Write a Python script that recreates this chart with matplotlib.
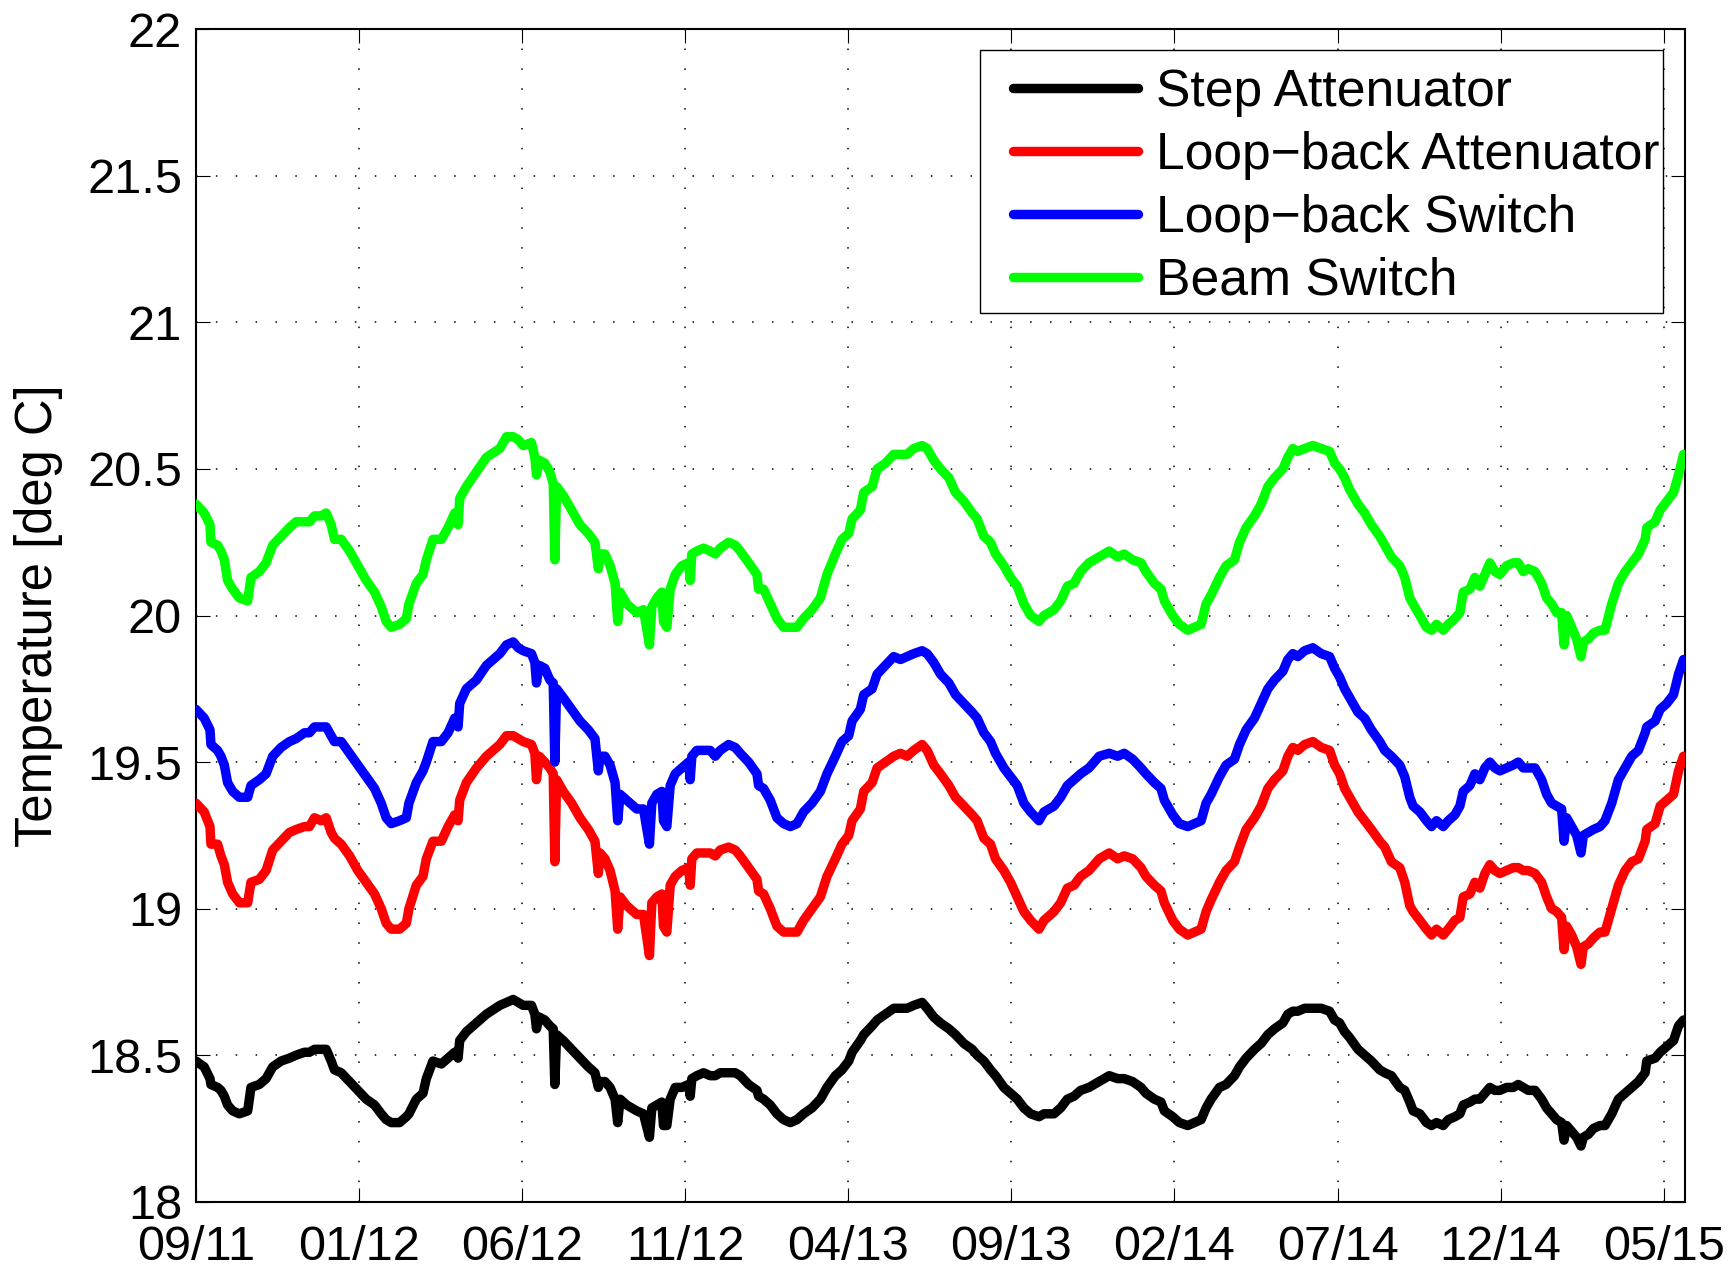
import matplotlib
matplotlib.use('Agg')
import matplotlib.pyplot as plt
from matplotlib.patches import Rectangle

plt.rcParams['font.family'] = ['Liberation Sans', 'DejaVu Sans']

# giorni dal primo campione (09/2011)
days = [
    0, 7.6, 12.9, 13.8, 19.9, 23.0, 26.1, 29.1, 33.8, 39.9,
    47.6, 50.6, 58.3, 64.5, 70.6, 78.3, 86.0, 92.1, 99.8, 104.4,
    109.0, 115.1, 119.8, 124.4, 127.4, 133.6, 141.3, 148.9, 156.6, 164.3,
    170.4, 175.0, 179.6, 187.3, 193.5, 195.9, 202.7, 208.8, 211.9, 218.0,
    225.7, 231.9, 238.0, 241.1, 242.6, 248.7, 258.0, 267.2, 279.5,
    285.6, 291.8, 296.4, 301.0, 308.6, 311.7, 313.2, 315.7, 320.9, 325.5,
    328.6, 330.1, 331.7, 337.8, 345.5, 353.2, 360.9, 367.0, 370.1, 371.6,
    376.2, 380.9, 385.5, 387.9, 390.1, 396.2, 405.4, 411.6, 417.1, 419.3,
    423.9, 428.5, 430.0, 433.1, 436.2, 440.8, 446.9, 453.1, 454.6, 456.1,
    460.7, 466.9, 473.0, 477.6, 482.2, 489.9, 496.0, 500.6, 508.3, 516.0,
    517.5, 522.1, 528.2, 534.4, 540.5, 546.7,
    552.8, 558.9, 566.6, 574.3, 580.4, 588.1, 594.2, 600.4, 603.5, 611.1,
    614.2, 621.9, 626.5, 634.2, 641.8, 648.0, 654.1, 660.2, 667.9, 672.5,
    678.6, 684.8, 692.5, 698.6, 706.3, 713.9, 718.5, 724.7, 730.8, 735.4,
    743.1, 749.2, 755.4, 761.5, 767.7, 775.4, 780.0, 789.2, 795.3, 801.5,
    807.6, 813.7, 821.4,
    830.8, 840.0, 847.7, 853.8, 861.5, 869.2, 873.8, 881.5, 887.6, 890.7,
    898.4, 904.5, 912.2, 918.3, 924.5, 929.1, 933.7, 941.4, 947.5, 955.2,
    959.8, 965.9, 973.6, 979.7, 985.9, 992.0, 999.7, 1004.3, 1008.9, 1013.5,
    1019.7, 1027.3, 1035.0, 1042.7, 1047.3, 1051.9, 1056.5, 1061.1, 1068.8, 1074.9,
    1081.1, 1088.8, 1093.4,
    1099.5, 1107.2, 1111.8, 1116.4, 1119.5, 1125.7, 1131.8, 1136.4, 1141.0, 1147.2,
    1151.8, 1157.9, 1162.5, 1165.6, 1171.7, 1176.3, 1180.9, 1185.5, 1190.1, 1194.7,
    1199.3, 1205.5, 1211.6, 1216.2, 1220.8, 1225.4, 1231.6, 1237.7, 1242.3, 1246.9,
    1251.5, 1256.1, 1258.3, 1260.7, 1265.3, 1269.9, 1273.9, 1276.1, 1280.7, 1285.3,
    1291.4, 1296.0, 1302.2, 1308.3, 1314.5, 1320.6, 1326.7, 1332.9, 1334.4, 1342.1,
    1346.7, 1352.8, 1359.0, 1363.6, 1368.2,
]

step_att = [
    18.48, 18.46, 18.42, 18.40, 18.39, 18.38, 18.36, 18.33, 18.31, 18.30,
    18.31, 18.39, 18.40, 18.42, 18.46, 18.48, 18.49, 18.50, 18.51, 18.51,
    18.52, 18.52, 18.52, 18.48, 18.45, 18.44, 18.41, 18.38, 18.35, 18.33,
    18.30, 18.28, 18.27, 18.27, 18.29, 18.30, 18.35, 18.37, 18.42, 18.48,
    18.47, 18.49, 18.51, 18.49, 18.55, 18.58, 18.61, 18.64, 18.67,
    18.68, 18.69, 18.68, 18.67, 18.67, 18.64, 18.59, 18.63, 18.62, 18.60,
    18.59, 18.40, 18.57, 18.55, 18.52, 18.49, 18.46, 18.44, 18.39, 18.41,
    18.41, 18.39, 18.35, 18.27, 18.35, 18.33, 18.31, 18.30, 18.22, 18.32,
    18.33, 18.34, 18.26, 18.26, 18.35, 18.39, 18.39, 18.40, 18.36, 18.42,
    18.43, 18.44, 18.43, 18.43, 18.44, 18.44, 18.44, 18.43, 18.40, 18.38,
    18.36, 18.35, 18.33, 18.30, 18.28, 18.27,
    18.28, 18.30, 18.32, 18.35, 18.39, 18.43, 18.45, 18.48, 18.51, 18.55,
    18.57, 18.60, 18.62, 18.64, 18.66, 18.66, 18.66, 18.67, 18.68, 18.66,
    18.63, 18.61, 18.59, 18.57, 18.54, 18.52, 18.50, 18.48, 18.45, 18.43,
    18.39, 18.37, 18.35, 18.32, 18.30, 18.29, 18.30, 18.30, 18.32, 18.35,
    18.36, 18.38, 18.39,
    18.41, 18.43, 18.42, 18.42, 18.41, 18.39, 18.37, 18.35, 18.34, 18.31,
    18.29, 18.27, 18.26, 18.27, 18.28, 18.32, 18.35, 18.39, 18.40, 18.43,
    18.46, 18.49, 18.52, 18.54, 18.57, 18.59, 18.61, 18.64, 18.65, 18.65,
    18.66, 18.66, 18.66, 18.65, 18.62, 18.61, 18.58, 18.56, 18.52, 18.50,
    18.48, 18.45, 18.44,
    18.43, 18.39, 18.38, 18.34, 18.31, 18.30, 18.27, 18.26, 18.27, 18.26,
    18.28, 18.29, 18.30, 18.33, 18.34, 18.35, 18.35, 18.37, 18.39, 18.38,
    18.38, 18.39, 18.39, 18.40, 18.39, 18.38, 18.38, 18.35, 18.32, 18.30,
    18.28, 18.27, 18.21, 18.26, 18.24, 18.22, 18.19, 18.22, 18.23, 18.25,
    18.26, 18.26, 18.30, 18.35, 18.37, 18.39, 18.41, 18.44, 18.48, 18.49,
    18.51, 18.53, 18.55, 18.60, 18.62,
]

loop_att = [
    19.36, 19.33, 19.28, 19.22, 19.22, 19.18, 19.15, 19.09, 19.05, 19.02,
    19.02, 19.09, 19.10, 19.13, 19.20, 19.23, 19.26, 19.27, 19.28, 19.28,
    19.31, 19.30, 19.31, 19.26, 19.24, 19.22, 19.18, 19.13, 19.09, 19.05,
    19.00, 18.95, 18.93, 18.93, 18.95, 19.00, 19.08, 19.11, 19.17, 19.23,
    19.23, 19.28, 19.32, 19.30, 19.37, 19.43, 19.48, 19.52, 19.56,
    19.59, 19.59, 19.58, 19.57, 19.56, 19.53, 19.44, 19.52, 19.50, 19.48,
    19.46, 19.16, 19.44, 19.40, 19.36, 19.31, 19.27, 19.23, 19.12, 19.19,
    19.17, 19.13, 19.06, 18.93, 19.04, 19.01, 18.98, 18.98, 18.84, 19.02,
    19.04, 19.05, 18.94, 18.92, 19.08, 19.11, 19.13, 19.14, 19.08, 19.17,
    19.19, 19.19, 19.19, 19.18, 19.20, 19.21, 19.20, 19.18, 19.14, 19.10,
    19.06, 19.05, 19.00, 18.94, 18.92, 18.92,
    18.92, 18.96, 19.00, 19.04, 19.11, 19.17, 19.22, 19.25, 19.30, 19.34,
    19.40, 19.43, 19.48, 19.50, 19.52, 19.53, 19.52, 19.54, 19.56, 19.54,
    19.49, 19.46, 19.42, 19.38, 19.35, 19.32, 19.30, 19.24, 19.22, 19.17,
    19.13, 19.09, 19.04, 18.99, 18.96, 18.93, 18.96, 18.99, 19.02, 19.07,
    19.08, 19.11, 19.13,
    19.17, 19.19, 19.17, 19.18, 19.17, 19.14, 19.11, 19.08, 19.06, 19.02,
    18.96, 18.93, 18.91, 18.92, 18.93, 18.99, 19.03, 19.09, 19.13, 19.16,
    19.21, 19.27, 19.31, 19.35, 19.41, 19.44, 19.47, 19.52, 19.55, 19.54,
    19.56, 19.57, 19.55, 19.54, 19.49, 19.46, 19.41, 19.38, 19.33, 19.30,
    19.27, 19.23, 19.21,
    19.16, 19.14, 19.09, 19.01, 18.99, 18.96, 18.93, 18.91, 18.93, 18.91,
    18.93, 18.96, 18.97, 19.04, 19.05, 19.09, 19.07, 19.12, 19.15, 19.13,
    19.12, 19.13, 19.14, 19.14, 19.13, 19.13, 19.12, 19.09, 19.04, 19.00,
    18.99, 18.97, 18.86, 18.94, 18.91, 18.87, 18.81, 18.87, 18.88, 18.90,
    18.92, 18.92, 19.00, 19.08, 19.13, 19.16, 19.17, 19.23, 19.27, 19.29,
    19.35, 19.37, 19.39, 19.47, 19.52,
]

loop_sw = [
    19.68, 19.65, 19.61, 19.56, 19.54, 19.52, 19.49, 19.43, 19.40, 19.38,
    19.38, 19.42, 19.44, 19.46, 19.52, 19.55, 19.57, 19.58, 19.60, 19.60,
    19.62, 19.62, 19.62, 19.59, 19.57, 19.57, 19.53, 19.49, 19.45, 19.41,
    19.36, 19.31, 19.29, 19.30, 19.31, 19.36, 19.43, 19.47, 19.50, 19.57,
    19.57, 19.60, 19.65, 19.62, 19.70, 19.75, 19.78, 19.83, 19.87,
    19.90, 19.91, 19.89, 19.88, 19.87, 19.84, 19.77, 19.83, 19.82, 19.78,
    19.77, 19.50, 19.75, 19.72, 19.68, 19.64, 19.61, 19.58, 19.47, 19.52,
    19.52, 19.49, 19.43, 19.30, 19.39, 19.37, 19.34, 19.34, 19.22, 19.36,
    19.39, 19.40, 19.30, 19.28, 19.42, 19.46, 19.48, 19.50, 19.44, 19.52,
    19.54, 19.54, 19.54, 19.52, 19.54, 19.56, 19.55, 19.53, 19.50, 19.46,
    19.42, 19.41, 19.37, 19.31, 19.29, 19.28,
    19.29, 19.33, 19.36, 19.40, 19.46, 19.52, 19.57, 19.59, 19.64, 19.68,
    19.73, 19.75, 19.80, 19.83, 19.86, 19.85, 19.86, 19.87, 19.88, 19.87,
    19.84, 19.80, 19.77, 19.73, 19.70, 19.67, 19.65, 19.60, 19.57, 19.53,
    19.48, 19.45, 19.42, 19.36, 19.33, 19.30, 19.33, 19.35, 19.38, 19.42,
    19.44, 19.46, 19.48,
    19.52, 19.53, 19.52, 19.53, 19.51, 19.48, 19.46, 19.43, 19.41, 19.37,
    19.32, 19.29, 19.28, 19.29, 19.30, 19.36, 19.39, 19.45, 19.49, 19.51,
    19.56, 19.61, 19.65, 19.70, 19.75, 19.78, 19.81, 19.85, 19.87, 19.86,
    19.88, 19.89, 19.87, 19.86, 19.82, 19.79, 19.75, 19.72, 19.67, 19.65,
    19.61, 19.57, 19.54,
    19.52, 19.49, 19.45, 19.38, 19.35, 19.33, 19.30, 19.28, 19.30, 19.28,
    19.30, 19.32, 19.35, 19.40, 19.42, 19.46, 19.44, 19.48, 19.50, 19.48,
    19.47, 19.48, 19.49, 19.50, 19.48, 19.48, 19.48, 19.44, 19.39, 19.36,
    19.35, 19.34, 19.23, 19.31, 19.28, 19.25, 19.19, 19.25, 19.26, 19.27,
    19.28, 19.30, 19.36, 19.44, 19.48, 19.52, 19.54, 19.60, 19.62, 19.64,
    19.68, 19.70, 19.73, 19.80, 19.85,
]

beam_sw = [
    20.38, 20.35, 20.31, 20.25, 20.24, 20.22, 20.19, 20.12, 20.09, 20.06,
    20.05, 20.13, 20.15, 20.18, 20.24, 20.27, 20.30, 20.32, 20.32, 20.32,
    20.34, 20.34, 20.35, 20.31, 20.26, 20.26, 20.22, 20.17, 20.12, 20.08,
    20.03, 19.98, 19.96, 19.97, 19.99, 20.04, 20.11, 20.14, 20.19, 20.26,
    20.26, 20.30, 20.35, 20.31, 20.40, 20.44, 20.49, 20.54, 20.57,
    20.61, 20.61, 20.60, 20.58, 20.59, 20.54, 20.48, 20.53, 20.52, 20.49,
    20.45, 20.19, 20.44, 20.41, 20.36, 20.31, 20.28, 20.25, 20.16, 20.21,
    20.21, 20.17, 20.11, 19.98, 20.08, 20.04, 20.01, 20.02, 19.90, 20.03,
    20.06, 20.08, 19.98, 19.96, 20.09, 20.14, 20.17, 20.18, 20.12, 20.21,
    20.22, 20.23, 20.22, 20.21, 20.23, 20.25, 20.24, 20.22, 20.18, 20.14,
    20.09, 20.09, 20.04, 19.99, 19.96, 19.96,
    19.96, 19.99, 20.02, 20.06, 20.14, 20.21, 20.26, 20.28, 20.33, 20.36,
    20.42, 20.44, 20.50, 20.52, 20.55, 20.55, 20.55, 20.57, 20.58, 20.57,
    20.53, 20.50, 20.47, 20.42, 20.39, 20.35, 20.33, 20.27, 20.25, 20.21,
    20.17, 20.13, 20.10, 20.04, 20.00, 19.98, 20.00, 20.02, 20.05, 20.10,
    20.11, 20.15, 20.18,
    20.20, 20.22, 20.20, 20.21, 20.19, 20.18, 20.15, 20.11, 20.09, 20.05,
    20.00, 19.97, 19.95, 19.96, 19.97, 20.04, 20.07, 20.13, 20.17, 20.19,
    20.25, 20.30, 20.34, 20.38, 20.44, 20.47, 20.50, 20.54, 20.57, 20.56,
    20.57, 20.58, 20.57, 20.56, 20.52, 20.50, 20.47, 20.43, 20.38, 20.35,
    20.31, 20.27, 20.24,
    20.20, 20.17, 20.13, 20.06, 20.04, 20.00, 19.96, 19.95, 19.97, 19.95,
    19.97, 19.99, 20.01, 20.08, 20.09, 20.13, 20.10, 20.14, 20.18, 20.15,
    20.14, 20.17, 20.18, 20.18, 20.15, 20.16, 20.15, 20.11, 20.06, 20.04,
    20.01, 20.01, 19.90, 20.00, 19.96, 19.92, 19.86, 19.91, 19.92, 19.94,
    19.95, 19.95, 20.04, 20.11, 20.15, 20.18, 20.21, 20.26, 20.30, 20.32,
    20.36, 20.39, 20.42, 20.48, 20.55,
]

nomi = ['Step Attenuator', 'Loop\u2212back Attenuator', 'Loop\u2212back Switch', 'Beam Switch']
colori = ['black', 'red', 'blue', (0, 1, 0)]
tick_giorni = [0, 150, 300, 450, 600, 750, 900, 1050, 1200, 1350]
tick_etichette = ['09/11', '01/12', '06/12', '11/12', '04/13',
                  '09/13', '02/14', '07/14', '12/14', '05/15']
tick_y = [18, 18.5, 19, 19.5, 20, 20.5, 21, 21.5, 22]

fig = plt.figure(figsize=(17.34, 12.71), dpi=100)
ax = fig.add_axes([0.1130, 0.0545, 0.8587, 0.9224])

for serie, nome, colore in zip([step_att, loop_att, loop_sw, beam_sw], nomi, colori):
    ax.plot(days, serie, color=colore, lw=6.8, label=nome, zorder=3,
            solid_joinstyle='round', solid_capstyle='round')

ax.set_xlim(0, 1369.5)
ax.set_ylim(18, 22)
ax.set_xticks(tick_giorni)
ax.set_xticklabels(tick_etichette)
ax.set_yticks(tick_y)
ax.set_yticklabels([f'{v:g}' for v in tick_y])

ax.tick_params(axis='both', direction='in', top=True, right=True,
               length=10, width=0.8, labelsize=35)
ax.tick_params(axis='x', pad=17)
ax.tick_params(axis='y', pad=10)
for s in ax.spines.values():
    s.set_linewidth(1.5)

ax.grid(True, color='black', linestyle=(0, (1, 12)), linewidth=1.1, zorder=0)

ax.set_ylabel('Temperature [deg C]', fontsize=36.5)
ax.yaxis.set_label_coords(-0.089, 0.5)

# riquadro della legenda stile MATLAB (margine destro stretto)
ax.add_patch(Rectangle((0.5652, 0.7537), 0.3939, 0.2069, transform=fig.transFigure,
                       facecolor='white', edgecolor='black', linewidth=1.0,
                       zorder=4, clip_on=False))
ax.legend(loc='upper left', bbox_to_anchor=(0.5840, 0.9467),
          bbox_transform=fig.transFigure, borderaxespad=0, frameon=False,
          fontsize=37.2, handlelength=2.42, handletextpad=0.36,
          labelspacing=0.27, borderpad=0)

fig.savefig('out.png', dpi=100)
